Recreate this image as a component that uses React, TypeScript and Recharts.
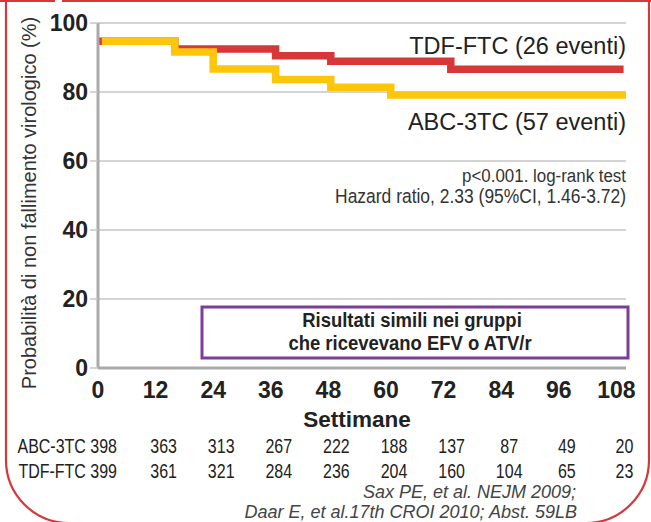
import React from "react";
import { LineChart, Line, XAxis, YAxis, CartesianGrid } from "recharts";

// Tick labels and at-risk table
const weekTicks = [0, 12, 24, 36, 48, 60, 72, 84, 96, 108];
const yTicks = [0, 20, 40, 60, 80, 100];
const abcAtRisk = [398, 363, 313, 267, 222, 188, 137, 87, 49, 20];
const tdfAtRisk = [399, 361, 321, 284, 236, 204, 160, 104, 65, 23];

// Kaplan–Meier step curves (week, % without virological failure)
const tdfWeeks = [0, 16, 37, 48.5, 73.5, 109.5];
const tdfSurv = [94.7, 92.5, 90.5, 88.9, 86.6, 86.6];
const abcWeeks = [0.8, 16, 24, 37, 48.5, 61, 110];
const abcSurv = [94.7, 91.6, 86.7, 83.6, 81.4, 79.1, 79.1];

const tdfData = tdfWeeks.map((w, i) => ({ week: w, p: tdfSurv[i] }));
const abcData = abcWeeks.map((w, i) => ({ week: w, p: abcSurv[i] }));

const FONT = "'Liberation Sans', Arial, Helvetica, sans-serif";
const RED = "#d8373a";
const YELLOW = "#fec60a";

// narrow text helper (condensed look)
const NText = (p: any) => {
  const { x, y, sx = 0.82, children, ...rest } = p;
  return (
    <g transform={`translate(${x},${y}) scale(${sx},1)`}>
      <text x={0} y={0} {...rest}>
        {children}
      </text>
    </g>
  );
};

const XTick = (props: any) => {
  const { x, y, payload } = props;
  const i = weekTicks.indexOf(payload.value);
  const num = { fontSize: 19.5, fill: "#222", fontFamily: FONT } as const;
  return (
    <g>
      <text x={x} y={y + 30} textAnchor="middle" fontWeight="bold" fontSize={23} fill="#222" fontFamily={FONT}>
        {payload.value}
      </text>
      {i === 0 ? (
        <>
          <NText x={x + 19} y={y + 85} textAnchor="end" {...num}>{`ABC-3TC ${abcAtRisk[i]}`}</NText>
          <NText x={x + 19} y={y + 110} textAnchor="end" {...num}>{`TDF-FTC ${tdfAtRisk[i]}`}</NText>
        </>
      ) : (
        <>
          <NText x={x + 8} y={y + 85} textAnchor="middle" {...num}>{abcAtRisk[i]}</NText>
          <NText x={x + 8} y={y + 110} textAnchor="middle" {...num}>{tdfAtRisk[i]}</NText>
        </>
      )}
    </g>
  );
};

export default function App() {
  return (
    <div
      style={{
        position: "fixed",
        left: 0,
        top: 0,
        width: 651,
        height: 522,
        background: "#fff",
        overflow: "hidden",
        fontFamily: FONT,
      }}
    >
      <LineChart width={651} height={522} margin={{ top: 23, right: 25, left: 0, bottom: 0 }}>
        <CartesianGrid vertical={false} stroke="#c6c6c6" strokeWidth={1.5} />
        <XAxis
          dataKey="week"
          type="number"
          domain={[0, 110]}
          ticks={weekTicks}
          interval={0}
          height={154}
          tickSize={0}
          tickMargin={0}
          tickLine={false}
          axisLine={{ stroke: "#aaaaaa", strokeWidth: 3 }}
          tick={<XTick />}
        />
        <YAxis
          type="number"
          domain={[0, 100]}
          ticks={yTicks}
          interval={0}
          width={98}
          tickSize={8}
          tickMargin={2}
          tickLine={{ stroke: "#c6c6c6", strokeWidth: 1.5 }}
          axisLine={{ stroke: "#aaaaaa", strokeWidth: 3 }}
          tick={{ fontSize: 23, fontWeight: "bold", fill: "#222", fontFamily: FONT }}
        />
        <Line
          data={tdfData}
          dataKey="p"
          type="stepAfter"
          stroke={RED}
          strokeWidth={7.5}
          dot={false}
          activeDot={false}
          isAnimationActive={false}
          strokeLinecap="butt"
          strokeLinejoin="miter"
        />
        <Line
          data={abcData}
          dataKey="p"
          type="stepAfter"
          stroke={YELLOW}
          strokeWidth={7.5}
          dot={false}
          activeDot={false}
          isAnimationActive={false}
          strokeLinecap="butt"
          strokeLinejoin="miter"
        />
      </LineChart>
      <svg
        width={651}
        height={522}
        style={{ position: "absolute", left: 0, top: 0, pointerEvents: "none" }}
        fontFamily={FONT}
      >
        {/* frame */}
        <path
          d="M0,1 H55 M62,1 H651 M6,0 V460 A63,63 0 0 0 69,523 M649,0 V460 A63,63 0 0 1 586,523"
          fill="none"
          stroke={RED}
          strokeWidth={2.2}
        />
        {/* y-axis title */}
        <NText
          x={36}
          y={203}
          sx={1}
          transform="rotate(-90)"
          textAnchor="middle"
          fontSize={20}
          fill="#333"
        >
          Probabilità di non fallimento virologico (%)
        </NText>
        {/* x-axis title */}
        <text x={357} y={427} textAnchor="middle" fontSize={22.5} fontWeight="bold" fill="#222">
          Settimane
        </text>
        {/* series labels */}
        <text x={626} y={54} textAnchor="end" fontSize={23.5} fill="#222">
          TDF-FTC (26 eventi)
        </text>
        <text x={626} y={130} textAnchor="end" fontSize={23.5} fill="#222">
          ABC-3TC (57 eventi)
        </text>
        {/* stats */}
        <NText x={626} y={182} sx={0.89} textAnchor="end" fontSize={19} fill="#333">
          p&lt;0.001. log-rank test
        </NText>
        <NText x={626} y={203} sx={0.895} textAnchor="end" fontSize={19.5} fill="#333">
          Hazard ratio, 2.33 (95%CI, 1.46-3.72)
        </NText>
        {/* note box */}
        <rect x={202} y={307} width={426} height={51} fill="#fff" stroke="#7d3c98" strokeWidth={3} />
        <NText x={412} y={327} sx={0.88} textAnchor="middle" fontSize={21} fontWeight="bold" fill="#222">
          Risultati simili nei gruppi
        </NText>
        <NText x={410} y={350} sx={0.88} textAnchor="middle" fontSize={21} fontWeight="bold" fill="#222">
          che ricevevano EFV o ATV/r
        </NText>
        {/* references */}
        <text x={576} y={498} textAnchor="end" fontSize={18} fontStyle="italic" fill="#444">
          Sax PE, et al. NEJM 2009;
        </text>
        <text x={577} y={518} textAnchor="end" fontSize={18} fontStyle="italic" fill="#444">
          Daar E, et al.17th CROI 2010; Abst. 59LB
        </text>
      </svg>
    </div>
  );
}
